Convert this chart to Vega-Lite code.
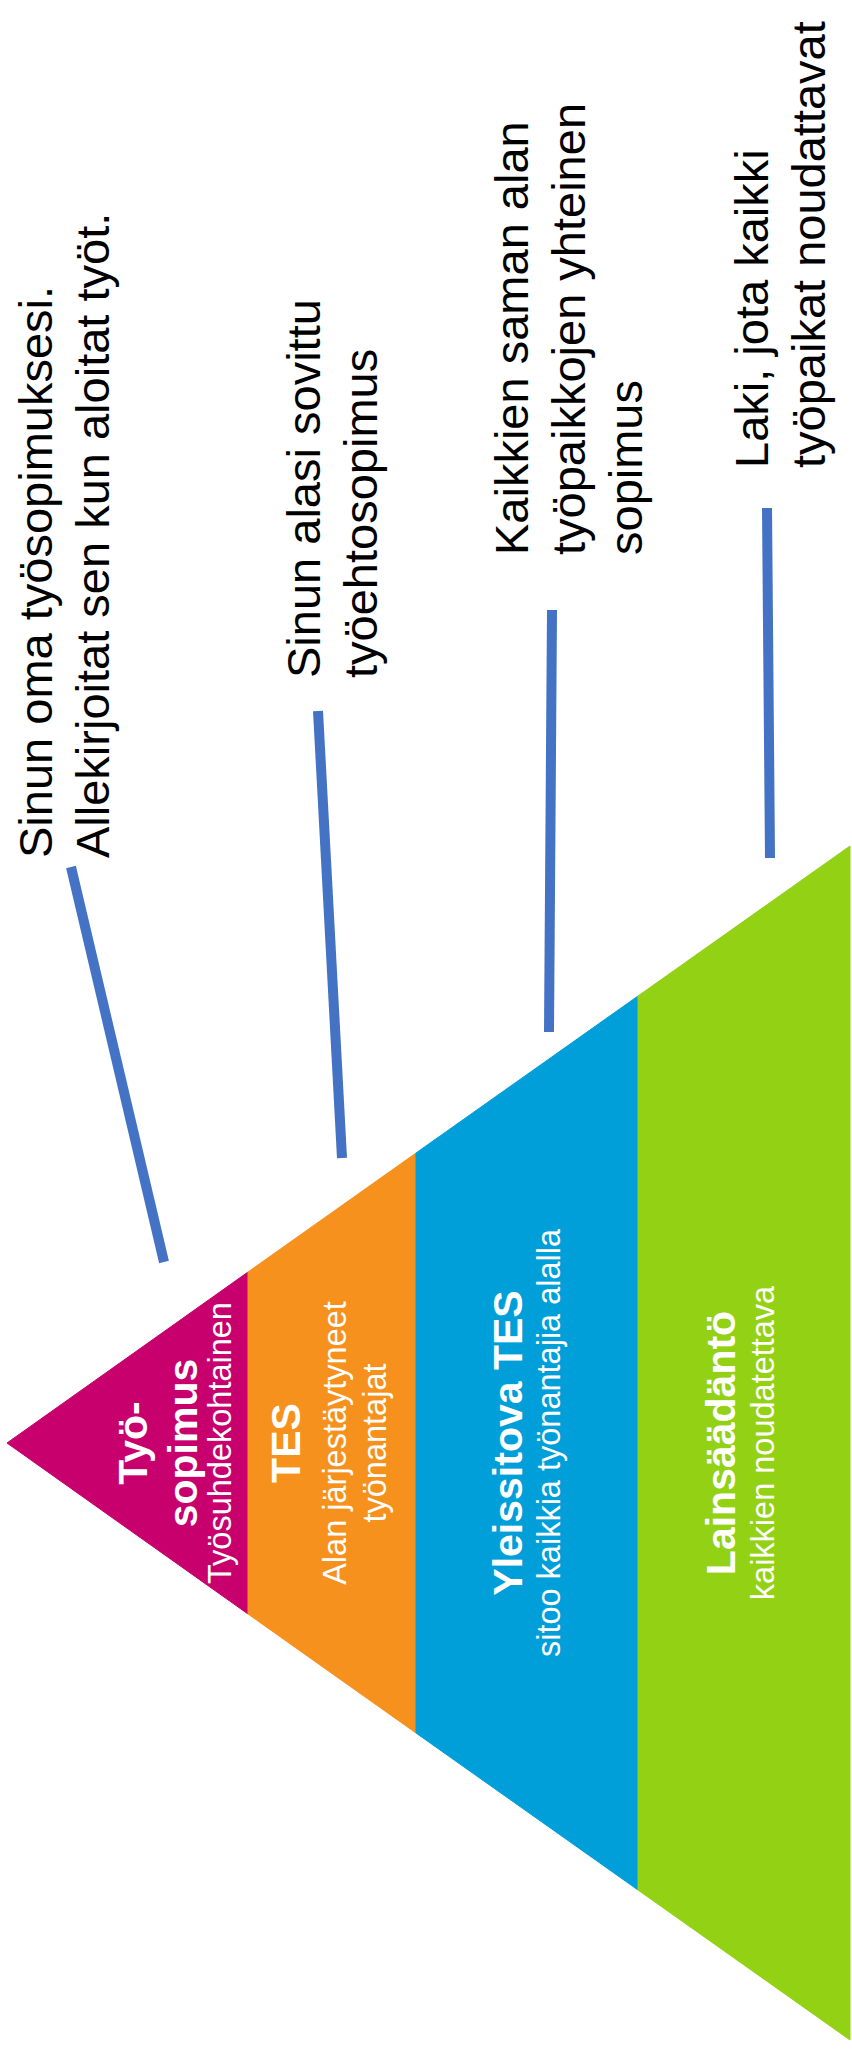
{
  "$schema": "https://vega.github.io/schema/vega-lite/v6.json",
  "description": "Työoikeuden pyramidi: työsopimus, TES, yleissitova TES ja lainsäädäntö.",
  "width": 852,
  "height": 2051,
  "padding": 0,
  "autosize": {"type": "none"},
  "background": "white",
  "config": {"view": {"stroke": null}},
  "datasets": {
    "pyramid": [
      {"level": "Työsopimus", "x": 7, "top": 1443, "bottom": 1443},
      {"level": "Työsopimus", "x": 248, "top": 1272, "bottom": 1614},
      {"level": "TES", "x": 248, "top": 1272, "bottom": 1614},
      {"level": "TES", "x": 416, "top": 1153, "bottom": 1733},
      {"level": "Yleissitova TES", "x": 416, "top": 1153, "bottom": 1733},
      {"level": "Yleissitova TES", "x": 638, "top": 996, "bottom": 1890},
      {"level": "Lainsäädäntö", "x": 638, "top": 996, "bottom": 1890},
      {"level": "Lainsäädäntö", "x": 850, "top": 846, "bottom": 2040}
    ],
    "callouts": [
      {"level": "Työsopimus", "x": 71, "y": 867, "x2": 164, "y2": 1262},
      {"level": "TES", "x": 318, "y": 711, "x2": 342, "y2": 1158},
      {"level": "Yleissitova TES", "x": 552, "y": 610, "x2": 549, "y2": 1032},
      {"level": "Lainsäädäntö", "x": 767, "y": 508, "x2": 770, "y2": 858}
    ],
    "notes": [
      {"text": "Sinun oma työsopimuksesi.\nAllekirjoitat sen kun aloitat työt.", "x": 52, "y": 858},
      {"text": "Sinun alasi sovittu\ntyöehtosopimus", "x": 320, "y": 678},
      {"text": "Kaikkien saman alan\ntyöpaikkojen yhteinen\nsopimus", "x": 528, "y": 555},
      {"text": "Laki, jota kaikki\ntyöpaikat noudattavat", "x": 768, "y": 468}
    ],
    "titles": [
      {"text": "Työ-\nsopimus", "x": 147, "y": 1443},
      {"text": "TES", "x": 300, "y": 1443},
      {"text": "Yleissitova TES", "x": 522, "y": 1443},
      {"text": "Lainsäädäntö", "x": 735, "y": 1443}
    ],
    "subtitles": [
      {"text": "Työsuhdekohtainen", "x": 231, "y": 1443},
      {"text": "Alan järjestäytyneet\ntyönantajat", "x": 346, "y": 1443},
      {"text": "sitoo kaikkia työnantajia alalla", "x": 560, "y": 1443},
      {"text": "kaikkien noudatettava", "x": 774, "y": 1443}
    ]
  },
  "layer": [
    {
      "data": {"name": "pyramid"},
      "mark": {"type": "area", "orient": "vertical", "interpolate": "linear", "strokeWidth": 1},
      "encoding": {
        "x": {"field": "x", "type": "quantitative", "scale": {"domain": [0, 852], "nice": false}, "axis": null},
        "y": {"field": "top", "type": "quantitative", "stack": null, "scale": {"domain": [0, 2051], "nice": false, "zero": false, "reverse": true}, "axis": null},
        "y2": {"field": "bottom"},
        "color": {
          "field": "level",
          "type": "nominal",
          "scale": {
            "domain": ["Työsopimus", "TES", "Yleissitova TES", "Lainsäädäntö"],
            "range": ["#C8006E", "#F7911E", "#009FDA", "#93D114"]
          },
          "legend": null
        },
        "stroke": {
          "field": "level",
          "type": "nominal",
          "scale": {
            "domain": ["Työsopimus", "TES", "Yleissitova TES", "Lainsäädäntö"],
            "range": ["#C8006E", "#F7911E", "#009FDA", "#93D114"]
          },
          "legend": null
        }
      }
    },
    {
      "data": {"name": "callouts"},
      "mark": {"type": "rule", "color": "#4472C4", "strokeWidth": 10, "strokeCap": "butt"},
      "encoding": {
        "x": {"field": "x", "type": "quantitative"},
        "y": {"field": "y", "type": "quantitative"},
        "x2": {"field": "x2"},
        "y2": {"field": "y2"}
      }
    },
    {
      "data": {"name": "notes"},
      "mark": {
        "type": "text",
        "angle": 270,
        "align": "left",
        "baseline": "alphabetic",
        "lineBreak": "\n",
        "lineHeight": 57,
        "font": "Liberation Sans",
        "fontSize": 47,
        "color": "#000000"
      },
      "encoding": {
        "x": {"field": "x", "type": "quantitative"},
        "y": {"field": "y", "type": "quantitative"},
        "text": {"field": "text"}
      }
    },
    {
      "data": {"name": "titles"},
      "mark": {
        "type": "text",
        "angle": 270,
        "align": "center",
        "baseline": "alphabetic",
        "lineBreak": "\n",
        "lineHeight": 50,
        "font": "Liberation Sans",
        "fontWeight": "bold",
        "fontSize": 41,
        "color": "#FFFFFF"
      },
      "encoding": {
        "x": {"field": "x", "type": "quantitative"},
        "y": {"field": "y", "type": "quantitative"},
        "text": {"field": "text"}
      }
    },
    {
      "data": {"name": "subtitles"},
      "mark": {
        "type": "text",
        "angle": 270,
        "align": "center",
        "baseline": "alphabetic",
        "lineBreak": "\n",
        "lineHeight": 40,
        "font": "Liberation Sans",
        "fontSize": 32.5,
        "color": "#FFFFFF"
      },
      "encoding": {
        "x": {"field": "x", "type": "quantitative"},
        "y": {"field": "y", "type": "quantitative"},
        "text": {"field": "text"}
      }
    }
  ]
}
